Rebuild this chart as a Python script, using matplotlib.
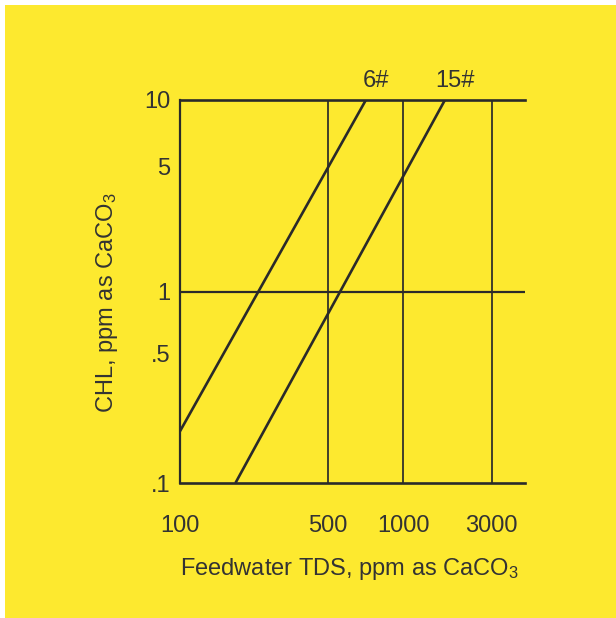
import numpy as np
import matplotlib
matplotlib.use("Agg")
import matplotlib.pyplot as plt
from matplotlib.patches import Rectangle

plt.rcParams["font.family"] = ["Liberation Sans", "DejaVu Sans"]
plt.rcParams["mathtext.fontset"] = "custom"
plt.rcParams["mathtext.rm"] = "Liberation Sans"
plt.rcParams["mathtext.default"] = "regular"

# chart data (schematic log-log chart, axes are not evenly spaced in the original)
X_TICKS = [100, 500, 1000, 3000]
X_TICKLABELS = ["100", "500", "1000", "3000"]
Y_TICKS = [0.1, 0.5, 1, 5, 10]
Y_TICKLABELS = [".1", ".5", "1", "5", "10"]
X_GRID = [500, 1000, 3000]
Y_GRID = [1]
LINE_6_X = [100, 710]
LINE_6_Y = [0.19, 10]
LINE_15_X = [183, 1680]
LINE_15_Y = [0.1, 10]
LABELS = ["6#", "15#"]

# drawn-scale breakpoints (value -> fraction of axis), as the hand-drawn original
X_BREAK = [100, 500, 1000, 3000, 4500]
X_FRAC = [0.0, 0.428, 0.647, 0.903, 1.0]
Y_BREAK = [0.1, 0.5, 1, 5, 10]
Y_FRAC = [0.0, 0.339, 0.4995, 0.826, 1.0]

INK = "#2a2a2a"
TXT = "#333333"
YELLOW = "#fde92f"
FS = 17


def piecewise(breaks, fracs):
    lb = np.log10(breaks)

    def fwd(v):
        v = np.asarray(v, float)
        lv = np.log10(np.where(v > 0, v, breaks[0]))
        return np.interp(lv, lb, fracs, left=fracs[0], right=fracs[-1])

    def inv(p):
        return 10 ** np.interp(np.asarray(p, float), fracs, lb)

    return fwd, inv


fig = plt.figure(figsize=(6.16, 6.18), dpi=100)
fig.patch.set_facecolor("white")
fig.patches.append(Rectangle((5 / 616, 0), 1, 1 - 5 / 618, transform=fig.transFigure,
                             facecolor=YELLOW, edgecolor="none", zorder=-10))

ax = fig.add_axes([180 / 616, 1 - 483 / 618, 345 / 616, 383 / 618])
ax.set_facecolor("none")
ax.set_xscale("function", functions=piecewise(X_BREAK, X_FRAC))
ax.set_yscale("function", functions=piecewise(Y_BREAK, Y_FRAC))
ax.set_xlim(X_BREAK[0], X_BREAK[-1])
ax.set_ylim(Y_BREAK[0], Y_BREAK[-1])

ax.spines["right"].set_visible(False)
for s in ("top", "bottom"):
    ax.spines[s].set_linewidth(1.9)
    ax.spines[s].set_color(INK)
ax.spines["left"].set_linewidth(1.6)
ax.spines["left"].set_color(INK)

for xv in X_GRID:
    ax.axvline(xv, color=INK, lw=1.25)
for yv in Y_GRID:
    ax.axhline(yv, color=INK, lw=1.6)

ax.plot(LINE_6_X, LINE_6_Y, color=INK, lw=1.9, solid_capstyle="butt")
ax.plot(LINE_15_X, LINE_15_Y, color=INK, lw=1.9, solid_capstyle="butt")
for lab, xs, ys in zip(LABELS, (LINE_6_X, LINE_15_X), (LINE_6_Y, LINE_15_Y)):
    ax.annotate(lab, (xs[-1], ys[-1]), xytext=(7, 6), textcoords="offset points",
                ha="center", va="bottom", fontsize=FS, color=TXT)

ax.set_xticks(X_TICKS, X_TICKLABELS)
ax.set_yticks(Y_TICKS, Y_TICKLABELS)
ax.minorticks_off()
ax.tick_params(axis="x", length=0, pad=23, labelsize=FS, labelcolor=TXT)
ax.tick_params(axis="y", length=0, pad=7, labelsize=FS, labelcolor=TXT)

ax.set_xlabel("Feedwater TDS, ppm as CaCO$_3$", fontsize=FS, color=TXT)
ax.set_ylabel("CHL, ppm as CaCO$_3$", fontsize=FS, color=TXT)
ax.xaxis.set_label_coords(0.49, -0.1905)
ax.yaxis.set_label_coords(-0.174, 0.470)

fig.savefig("out.png", dpi=100)
